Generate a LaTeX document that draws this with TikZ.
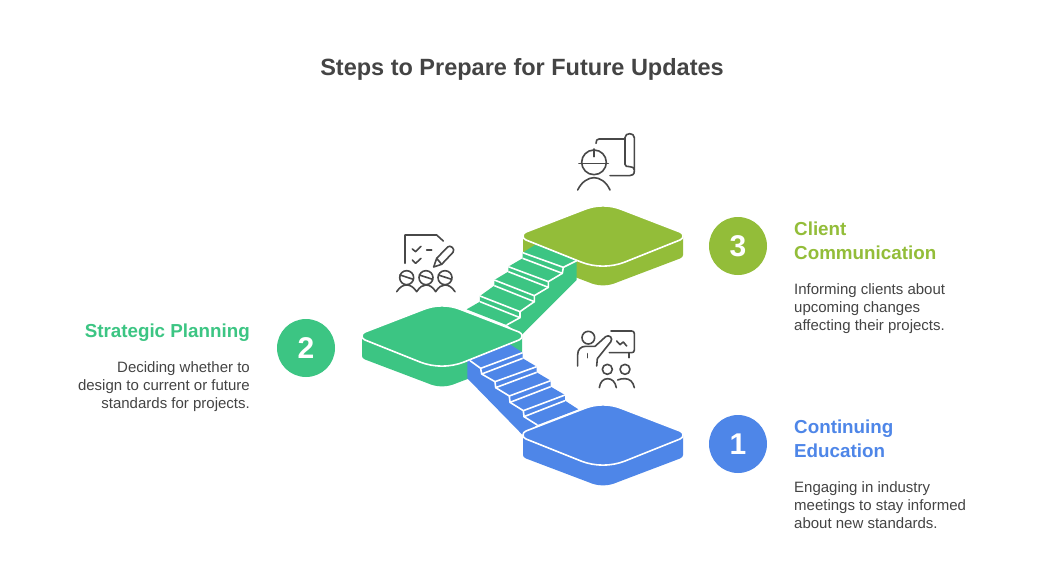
\documentclass[tikz,border=0pt]{standalone}
\usepackage{fontspec}
\setmainfont{Liberation Sans}
\definecolor{cblue}{HTML}{4E86E8}
\definecolor{cgreen}{HTML}{3CC583}
\definecolor{colive}{HTML}{93BD39}
\definecolor{cdark}{HTML}{484848}
\definecolor{ctext}{HTML}{444444}
\tikzset{
  sep/.style={draw=white,line width=1.6pt,line join=round},
  icon/.style={draw=cdark,line width=1.6pt,line cap=round,line join=round},
  numdisc/.style={circle,minimum size=58pt,inner sep=0pt,text=white,font=\fontsize{30}{30}\selectfont\bfseries},
  headl/.style={anchor=base west,inner sep=0pt,font=\fontsize{18.8}{24}\selectfont\bfseries},
  headr/.style={anchor=base east,inner sep=0pt,font=\fontsize{18.8}{24}\selectfont\bfseries},
  bodyl/.style={anchor=base west,inner sep=0pt,text=ctext,font=\fontsize{15}{18}\selectfont},
  bodyr/.style={anchor=base east,inner sep=0pt,text=ctext,font=\fontsize{15}{18}\selectfont},
}
\newcommand{\platbody}[3]{\fill[#3,shift={(#1,#2)}] (-80,0) -- (-80,20) .. controls (-80,21.5) and (-79,22.5) .. (-77,23.5) -- (-15,47) .. controls (-5,51.5) and (5,51.5) .. (15,47) -- (77,23.5) .. controls (79,22.5) and (80,21.5) .. (80,20) -- (80,0) -- cycle;}
\newcommand{\plattop}[3]{\filldraw[fill=#3,sep,shift={(#1,#2)}] (-80,0) .. controls (-80,-2) and (-79,-3) .. (-77,-4) -- (-20,-26) .. controls (-7,-31.5) and (7,-31.5) .. (20,-26) -- (77,-4) .. controls (79,-3) and (80,-2) .. (80,0) .. controls (80,2) and (79,3) .. (77,4) -- (22,26) .. controls (8,31.5) and (-8,31.5) .. (-22,26) -- (-77,4) .. controls (-79,3) and (-80,2) .. (-80,0) -- cycle;}
\begin{document}
\begin{tikzpicture}[x=1pt,y=-1pt]
\fill[white] (0,0) rectangle (1044,582);
\useasboundingbox (0,0) rectangle (1044,582);
\node[anchor=base,inner sep=0pt,text=ctext,font=\fontsize{23.5}{28}\selectfont\bfseries] (title) at (522,75.5) {Steps to Prepare for Future Updates};
% platform bodies
\platbody{603}{235}{colive}
\platbody{603}{435}{cblue}
\platbody{442}{336}{cgreen}
% green stairs
\begin{scope}[shift={(350,190)},x=0.3333pt,y=-0.3333pt]
\fill[cgreen] (680,200) -- (680,270) -- (515,435) -- (470,405) -- (350,358) -- (390,335) -- (390,318) -- (433,287) -- (433,270) -- (475,245) -- (475,230) -- (518,205) -- (518,188) -- (555,165) -- cycle;
\begin{scope}[sep]
\draw (518,188) -- (640,232) -- (680,212);
\draw (518,205) -- (637,250) -- (640,232);
\draw (475,230) -- (595,275) -- (637,250);
\draw (475,245) -- (595,292) -- (595,275);
\draw (433,270) -- (553,317) -- (595,292);
\draw (433,287) -- (553,335) -- (553,317);
\draw (390,318) -- (510,365) -- (553,335);
\draw (390,335) -- (510,383) -- (510,365);
\draw (510,383) -- (470,405);
\end{scope}
\end{scope}
% blue stairs
\begin{scope}[shift={(450,340)},x=0.3333pt,y=-0.3333pt]
\fill[cblue] (52,62) -- (52,115) -- (218,285) -- (262,255) -- (385,208) -- (345,182) -- (345,165) -- (302,140) -- (302,122) -- (260,97) -- (260,80) -- (218,55) -- (218,38) -- (178,12) -- cycle;
\begin{scope}[sep]
\draw (60,62) -- (92,85) -- (218,38);
\draw (92,85) -- (95,102) -- (218,55);
\draw (95,102) -- (135,125) -- (260,80);
\draw (135,125) -- (137,143) -- (260,97);
\draw (137,143) -- (178,168) -- (302,122);
\draw (178,168) -- (180,187) -- (302,140);
\draw (180,187) -- (220,212) -- (345,165);
\draw (220,212) -- (222,230) -- (345,182);
\draw (222,230) -- (262,255);
\end{scope}
\end{scope}
% platform tops
\plattop{603}{236}{colive}
\plattop{603}{435}{cblue}
\plattop{442}{336}{cgreen}
% number discs
\node[numdisc,fill=colive] (n3) at (738,246) {3};
\node[numdisc,fill=cgreen] (n2) at (306,348) {2};
\node[numdisc,fill=cblue] (n1) at (738,444) {1};
% texts
\node[headl,text=colive] (h3a) at (794,235.5) {Client};
\node[headl,text=colive] (h3b) at (794,259.5) {Communication};
\node[bodyl] (b3a) at (794,294) {Informing clients about};
\node[bodyl] (b3b) at (794,312) {upcoming changes};
\node[bodyl] (b3c) at (794,330) {affecting their projects.};
\node[headr,text=cgreen] (h2) at (250,337.5) {Strategic Planning};
\node[bodyr] (b2a) at (250,372) {Deciding whether to};
\node[bodyr] (b2b) at (250,390) {design to current or future};
\node[bodyr] (b2c) at (250,408) {standards for projects.};
\node[headl,text=cblue] (h1a) at (794,433.5) {Continuing};
\node[headl,text=cblue] (h1b) at (794,457.5) {Education};
\node[bodyl] (b1a) at (794,492) {Engaging in industry};
\node[bodyl] (b1b) at (794,510) {meetings to stay informed};
\node[bodyl] (b1c) at (794,528) {about new standards.};
% icon 2
\begin{scope}[shift={(385,225)},x=0.3333pt,y=-0.3333pt,icon]
\draw (60,115) -- (60,30) -- (155,30) -- (175,48);
\draw (82,72) -- (92,80) -- (108,64);
\draw (125,75) -- (140,75);
\draw (82,105) -- (92,115) -- (108,100);
\draw (146,126) -- (155,100) -- (188,66) .. controls (196,58) and (212,72) .. (204,82) -- (170,118) -- cycle;
\draw (155,100) -- (170,118);
\foreach \c/\n in {65/a,123/b,180/c}{
  \draw (\c,158) circle[radius=21];
  \draw (\c-20,150) -- (\c+20,163);
}
\draw (35,200) .. controls (45,185) and (55,180) .. (65,180) .. controls (75,180) and (85,185) .. (95,200) .. controls (105,185) and (113,180) .. (123,180) .. controls (133,180) and (143,185) .. (152,200) .. controls (162,185) and (170,180) .. (180,180) .. controls (190,180) and (200,185) .. (210,200);
\end{scope}
% icon 3
\begin{scope}[shift={(565,125)},x=0.3333pt,y=-0.3333pt,icon]
\draw (87,112) circle[radius=37];
\draw (42,115) -- (130,115);
\draw (87,72) -- (87,95);
\draw (38,195) .. controls (50,170) and (70,158) .. (87,158) .. controls (104,158) and (124,170) .. (135,195);
\draw (93,55) .. controls (93,46) and (96,42) .. (102,42) -- (180,42);
\draw (180,118) -- (180,38) .. controls (180,22) and (208,22) .. (208,38) -- (208,138) .. controls (208,148) and (202,152) .. (194,152) -- (135,152);
\draw (180,118) .. controls (180,124) and (186,125) .. (194,125) .. controls (202,125) and (208,128) .. (208,135);
\end{scope}
% icon 1
\begin{scope}[shift={(565,322)},x=0.3333pt,y=-0.3333pt,icon]
\draw (70,47) circle[radius=19];
\draw (38,132) -- (38,98) .. controls (38,82) and (48,73) .. (62,73) -- (90,73) -- (122,44) .. controls (132,36) and (146,48) .. (137,60) -- (97,110) -- (95,132);
\draw (68,95) -- (68,107);
\draw (138,27) -- (200,27) .. controls (205,27) and (208,30) .. (208,35) -- (208,84) .. controls (208,89) and (205,92) .. (200,92) -- (133,92);
\draw (192,92) -- (192,107);
\draw (155,57) -- (165,68) -- (175,60) -- (185,72);
\draw (127,142) circle[radius=15];
\draw (180,142) circle[radius=15];
\draw (103,197) .. controls (105,180) and (115,170) .. (128,170) .. controls (141,170) and (151,180) .. (154,197);
\draw (158,174) .. controls (163,171) and (172,170) .. (180,170) .. controls (194,170) and (205,180) .. (208,197);
\end{scope}
\end{tikzpicture}
\end{document}
